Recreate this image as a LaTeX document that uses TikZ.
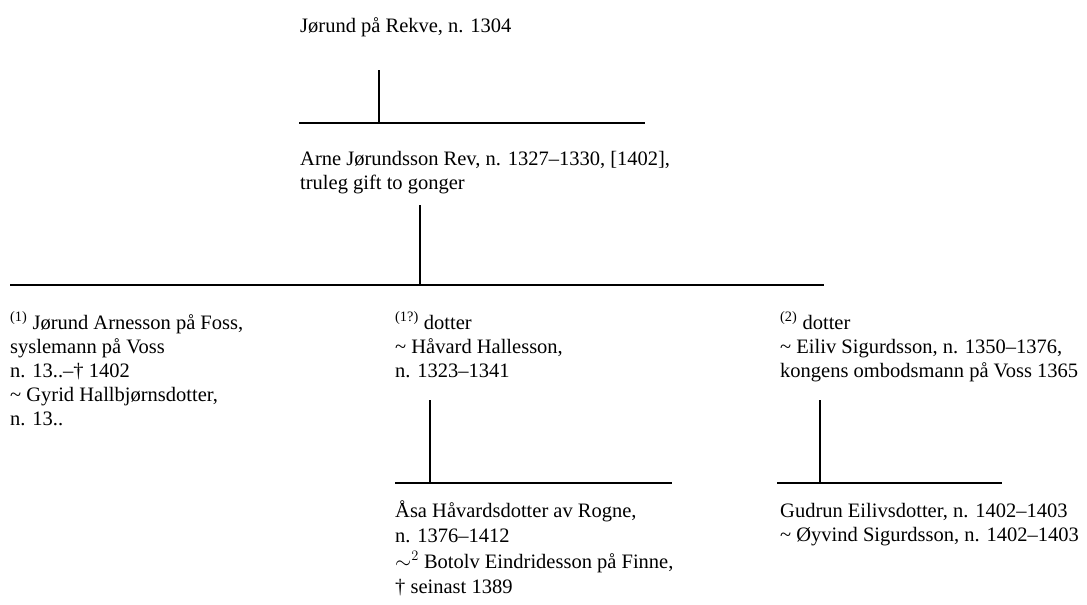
\documentclass[tikz,border=0pt]{standalone}
\usepackage{fontspec}
\setmainfont{Liberation Serif}
\newcommand\mystrut{\rule{0pt}{20pt}}
\newcommand\tld{\textasciitilde}
\begin{document}
\begin{tikzpicture}[x=1pt,y=-1pt,
  person/.style={anchor=north west, inner sep=0pt, align=left,
    font=\fontsize{20.5}{24}\selectfont},
  link/.style={line width=2.2pt, line cap=butt}]
\useasboundingbox (0,0) rectangle (1087,605);
% persons (node y = baseline - 20)
\node[person] (jorund) at (300,12) {\mystrut Jørund på Rekve, n. 1304};
\node[person] (arne) at (300,145) {\mystrut Arne Jørundsson Rev, n. 1327–1330, [1402],\\truleg gift to gonger};
\node[person] (jorundA) at (10,309) {\mystrut\textsuperscript{(1)} Jørund Arnesson på Foss,\\syslemann på Voss\\n. 13..–† 1402\\\tld{} Gyrid Hallbjørnsdotter,\\n. 13..};
\node[person] (dotter1) at (395,309) {\mystrut\textsuperscript{(1?)} dotter\\\tld{} Håvard Hallesson,\\n. 1323–1341};
\node[person] (dotter2) at (780,309) {\mystrut\textsuperscript{(2)} dotter\\\tld{} Eiliv Sigurdsson, n. 1350–1376,\\kongens ombodsmann på Voss 1365};
\node[person, font=\fontsize{20.5}{25.5}\selectfont] (asa) at (395,497) {\mystrut Åsa Håvardsdotter av Rogne,\\n. 1376–1412\\$\sim^2$ Botolv Eindridesson på Finne,\\† seinast 1389};
\node[person] (gudrun) at (780,497) {\mystrut Gudrun Eilivsdotter, n. 1402–1403\\\tld{} Øyvind Sigurdsson, n. 1402–1403};
% connector points
\coordinate (v1t) at (379,70);  \coordinate (v1b) at (379,123);
\coordinate (b1l) at (299,123); \coordinate (b1r) at (645,123);
\coordinate (v2t) at (420,205); \coordinate (v2b) at (420,285);
\coordinate (b2l) at (10,285);  \coordinate (b2r) at (824,285);
\coordinate (v3t) at (430,400); \coordinate (v3b) at (430,483);
\coordinate (b3l) at (395,483); \coordinate (b3r) at (672,483);
\coordinate (v4t) at (820,400); \coordinate (v4b) at (820,483);
\coordinate (b4l) at (777,483); \coordinate (b4r) at (1002,483);
\draw[link] (v1t) -- (v1b);
\draw[link] (b1l) -- (b1r);
\draw[link] (v2t) -- (v2b);
\draw[link] (b2l) -- (b2r);
\draw[link] (v3t) -- (v3b);
\draw[link] (b3l) -- (b3r);
\draw[link] (v4t) -- (v4b);
\draw[link] (b4l) -- (b4r);
\end{tikzpicture}
\end{document}
